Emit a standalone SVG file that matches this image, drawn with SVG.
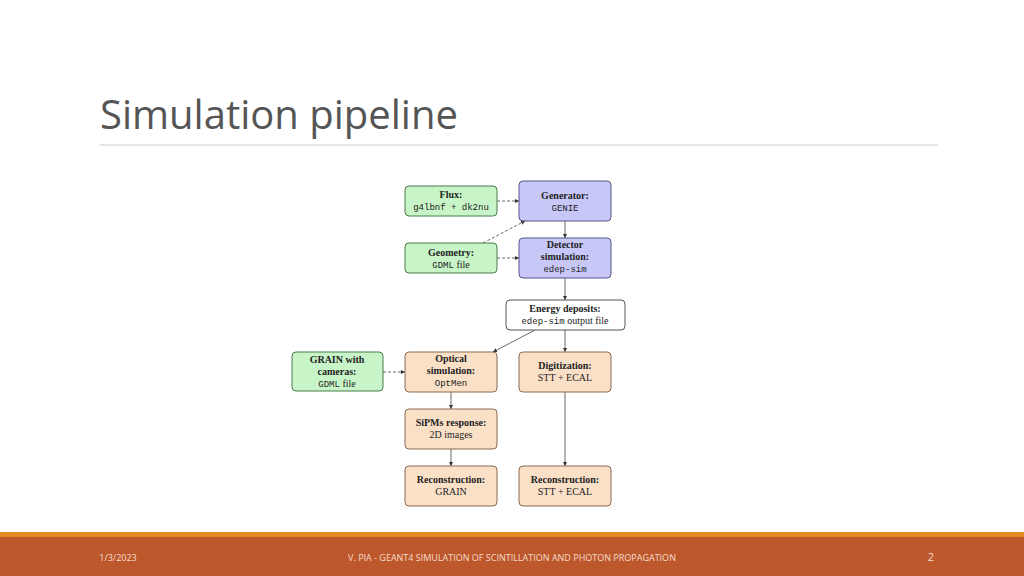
<svg xmlns="http://www.w3.org/2000/svg" width="1024" height="576" viewBox="0 0 1024 576">
<defs>
<marker id="a" viewBox="0 0 6 6" refX="6" refY="3" markerWidth="5" markerHeight="5" orient="auto"><path d="M0,0L6,3L0,6z" fill="#333"/></marker>
<style>
.g{fill:#c8f5c8;stroke:#4a7a4a;stroke-width:1}
.b{fill:#c8c8f8;stroke:#55558a;stroke-width:1}
.o{fill:#fbe0c8;stroke:#8a6a50;stroke-width:1}
.w{fill:#fff;stroke:#555;stroke-width:1}
text{font-family:"Liberation Serif",serif;font-size:10px;fill:#222;text-anchor:middle}
.h{font-weight:bold}
.m{font-family:"Liberation Mono",monospace;font-size:9px}
.c line,.c path{stroke:#444;stroke-width:0.8;fill:none;marker-end:url(#a)}
.d{stroke-dasharray:3,2}
</style>
</defs>
<rect width="1024" height="576" fill="#fff"/>
<text x="100" y="129" style="font-family:'Open Sans',sans-serif;font-size:40px;fill:#555;text-anchor:start">Simulation pipeline</text>
<line x1="100" y1="145" x2="938" y2="145" stroke="#ccc" stroke-width="1"/>
<g class="c">
<line class="d" x1="497" y1="201" x2="519" y2="201"/>
<line class="d" x1="483" y1="243" x2="525" y2="221"/>
<line class="d" x1="497" y1="258" x2="519" y2="258"/>
<line x1="565" y1="221" x2="565" y2="238"/>
<line x1="565" y1="278" x2="565" y2="300"/>
<line x1="535" y1="330" x2="493" y2="352"/>
<line x1="565" y1="330" x2="565" y2="352"/>
<line class="d" x1="383" y1="372" x2="405" y2="372"/>
<line x1="451" y1="392" x2="451" y2="409"/>
<line x1="451" y1="449" x2="451" y2="466"/>
<line x1="565" y1="392" x2="565" y2="466"/>
</g>
<g id="flux"><rect class="g" x="405" y="186" width="92" height="30" rx="4"/><text class="h" x="451" y="198">Flux:</text><text class="m" x="451" y="210">g4lbnf + dk2nu</text></g>
<g id="gen"><rect class="b" x="519" y="181" width="92" height="40" rx="4"/><text class="h" x="565" y="199">Generator:</text><text class="m" x="565" y="211">GENIE</text></g>
<g id="geo"><rect class="g" x="405" y="243" width="92" height="30" rx="4"/><text class="h" x="451" y="256">Geometry:</text><text x="451" y="268"><tspan class="m">GDML</tspan> file</text></g>
<g id="det"><rect class="b" x="519" y="238" width="92" height="40" rx="4"/><text class="h" x="565" y="248">Detector</text><text class="h" x="565" y="260">simulation:</text><text class="m" x="565" y="272">edep-sim</text></g>
<g id="en"><rect class="w" x="506" y="300" width="119" height="30" rx="4"/><text class="h" x="565" y="312">Energy deposits:</text><text x="565" y="324"><tspan class="m">edep-sim</tspan> output file</text></g>
<g id="grain"><rect class="g" x="292" y="352" width="91" height="39" rx="4"/><text class="h" x="337" y="363">GRAIN with</text><text class="h" x="337" y="375">cameras:</text><text x="337" y="387"><tspan class="m">GDML</tspan> file</text></g>
<g id="opt"><rect class="o" x="405" y="352" width="92" height="40" rx="4"/><text class="h" x="451" y="362">Optical</text><text class="h" x="451" y="374">simulation:</text><text class="m" x="451" y="386">OptMen</text></g>
<g id="dig"><rect class="o" x="519" y="352" width="92" height="40" rx="4"/><text class="h" x="565" y="369">Digitization:</text><text x="565" y="381">STT + ECAL</text></g>
<g id="sipm"><rect class="o" x="405" y="409" width="92" height="40" rx="4"/><text class="h" x="451" y="426">SiPMs response:</text><text x="451" y="438">2D images</text></g>
<g id="rg"><rect class="o" x="405" y="466" width="92" height="40" rx="4"/><text class="h" x="451" y="483">Reconstruction:</text><text x="451" y="495">GRAIN</text></g>
<g id="rs"><rect class="o" x="519" y="466" width="92" height="40" rx="4"/><text class="h" x="565" y="483">Reconstruction:</text><text x="565" y="495">STT + ECAL</text></g>
<rect x="0" y="532" width="1024" height="5" fill="#e28a24"/>
<rect x="0" y="537" width="1024" height="39" fill="#bd582c"/>
<text x="118" y="561" style="font-family:'Open Sans',sans-serif;font-size:9px;fill:#f4dccc">1/3/2023</text>
<text x="512" y="561" style="font-family:'Open Sans',sans-serif;font-size:9px;fill:#f4dccc">V. PIA - GEANT4 SIMULATION OF SCINTILLATION AND PHOTON PROPAGATION</text>
<text x="931" y="561" style="font-family:'Open Sans',sans-serif;font-size:11px;fill:#f4dccc">2</text>
</svg>
